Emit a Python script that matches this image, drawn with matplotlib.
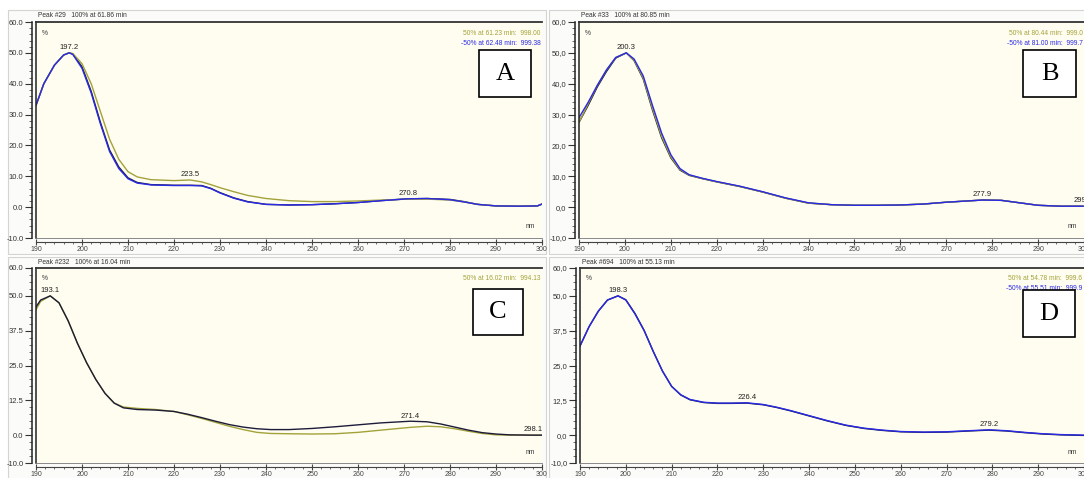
import matplotlib
matplotlib.use("Agg")
import numpy as np
import matplotlib.pyplot as plt
from matplotlib.patches import Rectangle

# ---- data (wavelength nm vs. relative absorbance %) ----
wl_A = [190, 191.7, 194, 196, 197.2, 198, 200, 202, 204, 206, 208, 210, 212, 215, 220,
        223.5, 226, 228, 230, 233, 236, 240, 245, 250, 255, 260, 265, 270.8, 275, 280,
        283, 286, 290, 295, 299, 300]
blue_A = [33, 40, 46, 49.3, 50, 49.5, 45, 37, 27, 18, 12.5, 9.2, 7.8, 7.2, 7.0,
          7.0, 6.9, 6.0, 4.6, 2.9, 1.7, 0.9, 0.7, 0.8, 1.1, 1.5, 2.1, 2.7, 2.8, 2.4,
          1.7, 0.9, 0.4, 0.3, 0.4, 1.0]
dark_A = [33, 40, 46, 49.3, 50, 49.6, 45.5, 37.5, 27.5, 18.5, 13, 9.5, 8.0, 7.3, 7.1,
          7.1, 7.0, 6.1, 4.7, 3.0, 1.8, 0.9, 0.7, 0.8, 1.1, 1.5, 2.1, 2.7, 2.8, 2.5,
          1.8, 0.9, 0.4, 0.3, 0.4, 1.0]
olive_A = [33, 40, 46, 49.3, 50, 49.8, 46.5, 40, 31, 22, 15.5, 11.5, 9.8, 8.9, 8.6,
           8.8, 8.2, 7.3, 6.3, 5.0, 3.8, 2.8, 2.1, 1.8, 1.8, 2.0, 2.3, 2.6, 2.6, 2.3,
           1.7, 0.9, 0.4, 0.3, 0.4, 1.0]

wl_B = [190, 192, 194, 196, 198, 200.3, 202, 204, 206, 208, 210, 212, 214, 217, 220,
        225, 230, 235, 240, 245, 250, 255, 260, 265, 270, 277.9, 282, 286, 290, 295, 299.8]
blue_B = [29, 34, 39.5, 44.5, 48.5, 50, 48, 42.5, 33, 24, 17, 12.5, 10.5, 9.3, 8.3,
          6.8, 5.0, 3.0, 1.4, 0.8, 0.6, 0.6, 0.7, 1.0, 1.6, 2.3, 2.2, 1.4, 0.6, 0.3, 0.3]
dark_B = [27.5, 33, 39, 44, 48.3, 50, 47.5, 41.5, 31.5, 22.5, 16, 12, 10.3, 9.2, 8.2,
          6.7, 4.9, 2.9, 1.3, 0.8, 0.6, 0.6, 0.7, 1.0, 1.6, 2.3, 2.2, 1.4, 0.6, 0.3, 0.3]
olive_B = [27.5, 33.5, 39.5, 44.5, 48.5, 50, 47.6, 41.8, 32, 23, 16.3, 12.2, 10.4, 9.2, 8.2,
           6.7, 4.9, 2.9, 1.3, 0.8, 0.6, 0.6, 0.7, 1.0, 1.6, 2.3, 2.2, 1.4, 0.6, 0.3, 0.3]

wl_C = [190, 191, 193.1, 195, 197, 199, 201, 203, 205, 207, 209, 212, 216, 220, 223,
        226, 229, 232, 235, 238, 241, 245, 250, 255, 260, 265, 271.4, 275, 278, 281,
        284, 287, 290, 293, 298.1, 300]
dark_C = [46, 48.5, 50, 47.5, 41, 33, 26, 20, 15, 11.5, 9.8, 9.2, 9.0, 8.5, 7.5,
          6.3, 5.0, 3.8, 2.9, 2.3, 2.0, 2.0, 2.4, 3.0, 3.7, 4.4, 5.0, 4.8, 4.0, 2.9,
          1.8, 0.9, 0.4, 0.1, 0.0, 0.0]
olive_C = [45, 48, 50, 47.5, 41, 33, 26, 20, 15, 11.5, 10.1, 9.6, 9.2, 8.5, 7.3,
           6.0, 4.6, 3.2, 2.0, 1.0, 0.6, 0.5, 0.4, 0.5, 1.0, 1.8, 2.8, 3.2, 3.0, 2.3,
           1.4, 0.6, 0.1, 0.0, 0.0, 0.0]

wl_D = [190, 192, 194, 196, 198.3, 200, 202, 204, 206, 208, 210, 212, 214, 217, 220,
        223, 226.4, 230, 233, 236, 240, 244, 248, 252, 256, 260, 265, 270, 275, 279.2,
        283, 287, 291, 295, 300]
blue_D = [32, 39, 44.5, 48.5, 50, 48.5, 43.5, 37.5, 30, 23, 17.5, 14.5, 12.8, 11.8, 11.5,
          11.5, 11.6, 11.0, 10.0, 8.8, 7.0, 5.2, 3.6, 2.5, 1.8, 1.3, 1.1, 1.2, 1.6, 1.9,
          1.6, 1.0, 0.5, 0.2, 0.0]
dark_D = [32, 39, 44.5, 48.5, 50, 48.6, 43.7, 37.6, 30, 23, 17.5, 14.4, 12.7, 11.7, 11.4,
          11.4, 11.5, 10.9, 9.9, 8.7, 6.9, 5.1, 3.5, 2.4, 1.7, 1.2, 1.0, 1.1, 1.5, 1.8,
          1.5, 0.9, 0.4, 0.1, -0.1]

peaks_A = [197.2, 223.5, 270.8]
peaks_B = [200.3, 277.9, 299.8]
peaks_C = [193.1, 271.4, 298.1]
peaks_D = [198.3, 226.4, 279.2]

headers = ["Peak #29   100% at 61.86 min", "Peak #33   100% at 80.85 min",
           "Peak #232   100% at 16.04 min", "Peak #694   100% at 55.13 min"]
notes_A = ["50% at 61.23 min:  998.00", "-50% at 62.48 min:  999.38"]
notes_B = ["50% at 80.44 min:  999.0", "-50% at 81.00 min:  999.7"]
notes_C = ["50% at 16.02 min:  994.13"]
notes_D = ["50% at 54.78 min:  999.6", "-50% at 55.51 min:  999.9"]

yticks_AB = [-10, 0, 10, 20, 30, 40, 50, 60]
yticks_CD = [-10, 0, 12.5, 25, 37.5, 50, 60]
xticks = list(range(190, 301, 10))

BLUE = "#2a2ae6"
DARK = "#1c1c3a"
OLIVE = "#a3a23a"
CREAM = "#fffdf0"
W, H = 1084, 478

plt.rcParams['font.family'] = ['Liberation Sans', 'DejaVu Sans']
fig = plt.figure(figsize=(W / 100, H / 100), dpi=100)
fig.patch.set_facecolor("white")


def frac(x0, y0, x1, y1):
    return [x0 / W, 1 - y1 / H, (x1 - x0) / W, (y1 - y0) / H]


def draw_panel(ax_px, frame_px, box_px, letter, wl, series, colors, peaks,
               yticks, comma, header, notes):
    fx0, fy0, fx1, fy1 = frame_px
    fig.add_artist(Rectangle((fx0 / W, 1 - fy1 / H), (fx1 - fx0) / W, (fy1 - fy0) / H,
                             transform=fig.transFigure, fc="#fbfbf9", ec="#d4d4d0",
                             lw=0.8, zorder=0))
    ax = fig.add_axes(frac(*ax_px))
    ax.set_facecolor(CREAM)
    for ys, c in zip(series, colors):
        ax.plot(wl, ys, color=c, lw=1.0, solid_joinstyle="round")
    ax.set_xlim(190, 300)
    ax.set_ylim(-10, 60)

    fmt = (lambda v: f"{v:.1f}".replace(".", ",")) if comma else (lambda v: f"{v:.1f}")
    ax.set_yticks(yticks)
    ax.set_yticklabels([fmt(v) for v in yticks])
    step = 2.5 if 12.5 in yticks else 2
    ax.set_yticks(np.arange(-10, 60.01, step), minor=True)
    ax.set_xticks(xticks)
    ax.set_xticklabels([str(v) for v in xticks])
    ax.set_xticks(np.arange(190, 300.1, 2), minor=True)
    ax.tick_params(axis="y", which="major", direction="out", length=5, width=0.8,
                   labelsize=5.5, pad=1, colors="#333333")
    ax.tick_params(axis="y", which="minor", direction="out", length=2.5, width=0.6,
                   colors="#555555")
    ax.tick_params(axis="x", which="major", direction="inout", length=4, width=0.8,
                   labelsize=5, pad=0.5, colors="#444444")
    ax.tick_params(axis="x", which="minor", direction="out", length=1.5, width=0.6,
                   colors="#555555")

    ax.spines["right"].set_visible(False)
    ax.spines["top"].set_color("#333333")
    ax.spines["top"].set_linewidth(1.3)
    ax.spines["left"].set_position(("outward", 3))
    ax.spines["left"].set_linewidth(1.1)
    ax.spines["left"].set_color("#222222")
    ax.spines["bottom"].set_position(("outward", 3))
    ax.spines["bottom"].set_linewidth(0.8)
    ax.spines["bottom"].set_color("#444444")
    ax.plot([0, 0], [0, 1], transform=ax.transAxes, color="#222222", lw=1.1, clip_on=False)
    ax.plot([0, 1], [0, 0], transform=ax.transAxes, color="#777777", lw=0.6, clip_on=False)

    ax.text(0.004, 1.012, header, transform=ax.transAxes, fontsize=4.8,
            color="#333333", ha="left", va="bottom")
    ax.text(0.012, 0.965, "%", transform=ax.transAxes, fontsize=4.8,
            color="#333333", ha="left", va="top")
    ax.text(0.985, 0.035, "nm", transform=ax.transAxes, fontsize=4.8,
            color="#333333", ha="right", va="bottom")
    for i, (t, c) in enumerate(zip(notes, [OLIVE, BLUE])):
        ax.text(0.997, 0.965 - i * 0.05, t, transform=ax.transAxes, fontsize=4.8,
                color=c, ha="right", va="top", clip_on=False)

    for p in peaks:
        k = wl.index(p)
        yv = max(ys[k] for ys in series)
        ax.text(p, yv + 0.6, f"{p:.1f}", fontsize=5.5, color="#222222",
                ha="center", va="bottom")

    bx0, by0, bx1, by1 = box_px
    fig.add_artist(Rectangle((bx0 / W, 1 - by1 / H), (bx1 - bx0) / W, (by1 - by0) / H,
                             transform=fig.transFigure, fc="white", ec="black",
                             lw=1.2, zorder=5))
    fig.text((bx0 + bx1) / 2 / W, 1 - (by0 + by1) / 2 / H, letter,
             family="Liberation Serif", fontsize=19, ha="center", va="center",
             zorder=6)
    return ax


draw_panel((36, 22, 542, 238), (8, 10, 546, 254), (479, 50, 531, 97), "A",
           wl_A, [dark_A, olive_A, blue_A], [DARK, OLIVE, BLUE], peaks_A,
           yticks_AB, False, headers[0], notes_A)
draw_panel((579, 22, 1084, 238), (549, 10, 1090, 254), (1023, 50, 1076, 97), "B",
           wl_B, [dark_B, olive_B, blue_B], [DARK, OLIVE, BLUE], peaks_B,
           yticks_AB, True, headers[1], notes_B)
draw_panel((36, 268, 542, 463), (8, 257, 546, 482), (473, 289, 523, 335), "C",
           wl_C, [olive_C, dark_C], [OLIVE, DARK], peaks_C,
           yticks_CD, False, headers[2], notes_C)
draw_panel((580, 268, 1084, 463), (549, 257, 1090, 482), (1023, 290, 1075, 337), "D",
           wl_D, [dark_D, blue_D], [DARK, BLUE], peaks_D,
           yticks_CD, True, headers[3], notes_D)

fig.savefig("out.png", dpi=100, facecolor=fig.get_facecolor())
